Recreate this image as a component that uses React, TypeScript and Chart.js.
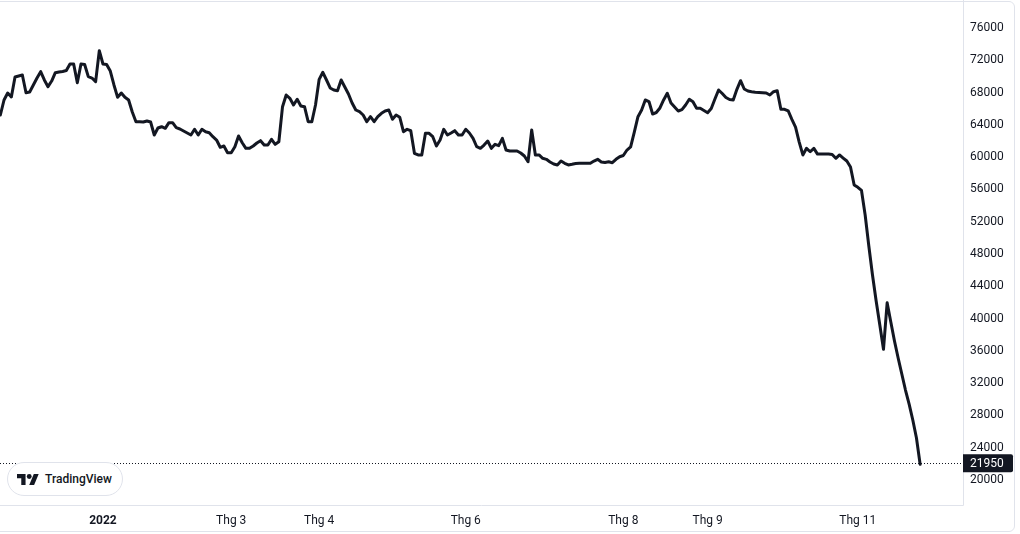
import React, { useEffect, useRef } from "react";
import { Chart, registerables } from "chart.js";

Chart.register(...registerables);

// Trading-day index of the first close (index 0 = first session of 2022)
const START_INDEX = -28;

const closePrices: number[] = [
  65220, 67080, 67950, 67450, 69930, 70050, 70180, 67980, 68070, 68940,
  69800, 70590, 69560, 68730, 69430, 70460, 70550, 70610, 70730, 71540,
  71540, 69220, 71540, 71480, 69970, 69800, 69350, 73190, 71540, 71480,
  70670, 68940, 67410, 67950, 67410, 67080, 65590, 64390, 64390, 64350,
  64480, 64350, 62740, 63610, 63770, 63570, 64270, 64270, 63650, 63490,
  63240, 62990, 62740, 63450, 62740, 63450, 63150, 63030, 62530, 62120,
  61220, 61380, 60550, 60550, 61290, 62620, 61790, 61090, 61090, 61380,
  61750, 62040, 61500, 61500, 62210, 61590, 61910, 66250, 67700, 67290,
  66460, 67170, 66340, 66250, 64390, 64390, 66460, 69640, 70510, 69560,
  68570, 68320, 68230, 69560, 68690, 67820, 66710, 65840, 65630, 65220,
  64390, 65010, 64390, 65010, 65430, 65720, 65840, 64690, 65220, 64940,
  63150, 63450, 63280, 60480, 60270, 60270, 62950, 62950, 62530, 61380,
  62120, 63450, 62740, 62990, 63280, 62740, 62740, 63450, 62990, 62330,
  61290, 61090, 61500, 62000, 61090, 61590, 61420, 62330, 60880, 60760,
  60760, 60760, 60510, 60140, 59430, 63360, 60270, 60270, 59860, 59730,
  59400, 59150, 59030, 59520, 59240, 59030, 59110, 59210, 59240, 59240,
  59240, 59240, 59520, 59730, 59400, 59340, 59430, 59310, 59730, 60050,
  60200, 60880, 61260, 63110, 65010, 65840, 67080, 66890, 65340, 65530,
  66090, 67080, 67910, 66710, 66210, 65720, 65880, 66460, 67170, 66870,
  66050, 66050, 65780, 65510, 66030, 67200, 68320, 67880, 67390, 67140,
  67080, 68400, 69470, 68440, 68190, 68100, 68050, 68020, 67980, 67950,
  67700, 68110, 68230, 65930, 65930, 65720, 64690, 63730, 61870, 60270,
  61090, 60670, 61090, 60380, 60380, 60380, 60380, 60330, 59860, 60270,
  59890, 59520, 58780, 56550, 56260, 55870, 52830, 48990, 45400, 42180,
  39200, 36190, 41960, 39570, 37220, 35110, 33130, 31150, 29410, 27430,
  25200, 21950,
];

const lastPrice = 21950;

const timeTickIndices = [0, 35, 59, 99, 142, 165, 206];
const timeTickLabels = ["2022", "Thg 3", "Thg 4", "Thg 6", "Thg 8", "Thg 9", "Thg 11"];

const priceTicks = [
  20000, 24000, 28000, 32000, 36000, 40000, 44000, 48000, 52000, 56000, 60000,
  64000, 68000, 72000, 76000,
];

const INK = "#131722";
const FRAME = "#e0e3eb";
const FONT = "Roboto, 'Liberation Sans', sans-serif";

const overlayPlugin = {
  id: "tvOverlay",
  beforeDatasetsDraw(chart: any) {
    const { ctx, chartArea } = chart;
    const y = Math.round(chart.scales.y.getPixelForValue(lastPrice)) - 0.5;
    ctx.save();
    ctx.strokeStyle = INK;
    ctx.lineWidth = 1;
    ctx.setLineDash([1, 2]);
    ctx.beginPath();
    ctx.moveTo(chartArea.left, y);
    ctx.lineTo(chartArea.right, y);
    ctx.stroke();
    ctx.restore();
  },
  afterDraw(chart: any) {
    const { ctx, chartArea } = chart;
    ctx.save();
    ctx.strokeStyle = FRAME;
    ctx.lineWidth = 1;
    ctx.beginPath();
    ctx.moveTo(chartArea.right + 0.5, 0);
    ctx.lineTo(chartArea.right + 0.5, chartArea.bottom + 0.5);
    ctx.lineTo(chartArea.left, chartArea.bottom + 0.5);
    ctx.stroke();

    const y = chart.scales.y.getPixelForValue(lastPrice) - 1;
    const x0 = chartArea.right;
    const w = 50;
    const h = 18;
    const r = 2;
    ctx.fillStyle = INK;
    ctx.beginPath();
    ctx.moveTo(x0, y - h / 2);
    ctx.lineTo(x0 + w - r, y - h / 2);
    ctx.quadraticCurveTo(x0 + w, y - h / 2, x0 + w, y - h / 2 + r);
    ctx.lineTo(x0 + w, y + h / 2 - r);
    ctx.quadraticCurveTo(x0 + w, y + h / 2, x0 + w - r, y + h / 2);
    ctx.lineTo(x0, y + h / 2);
    ctx.closePath();
    ctx.fill();
    ctx.fillStyle = "#ffffff";
    ctx.font = `12px ${FONT}`;
    ctx.textAlign = "left";
    ctx.textBaseline = "middle";
    ctx.fillText(String(lastPrice), x0 + 7, y + 0.5);
    ctx.restore();
  },
};

export default function App() {
  const canvasRef = useRef<HTMLCanvasElement | null>(null);

  useEffect(() => {
    document.body.style.margin = "0";
    document.body.style.overflow = "hidden";
    const canvas = canvasRef.current;
    if (!canvas) return;
    const points = closePrices.map((v, k) => ({ x: k + START_INDEX, y: v }));
    const chart = new Chart(canvas, {
      type: "line",
      data: {
        datasets: [
          {
            data: points,
            borderColor: INK,
            borderWidth: 3,
            pointRadius: 0,
            pointHoverRadius: 0,
            tension: 0,
            borderJoinStyle: "round",
            borderCapStyle: "round",
            fill: false,
          },
        ],
      },
      options: {
        animation: false,
        responsive: false,
        devicePixelRatio: 1,
        events: [],
        layout: { padding: { top: 1, left: 0, right: 0, bottom: 0 } },
        plugins: {
          legend: { display: false },
          tooltip: { enabled: false },
          title: { display: false },
        },
        scales: {
          x: {
            type: "linear",
            position: "bottom",
            min: -28.1,
            max: 234.7,
            grid: { display: false, drawTicks: false },
            border: { display: false },
            afterBuildTicks: (scale: any) => {
              scale.ticks = timeTickIndices.map((v) => ({ value: v }));
            },
            afterFit: (scale: any) => {
              scale.height = 29;
              scale.paddingLeft = 0;
              scale.paddingRight = 0;
            },
            ticks: {
              autoSkip: false,
              maxRotation: 0,
              minRotation: 0,
              padding: 9,
              color: INK,
              font: (c: any) => ({
                family: FONT,
                size: 12,
                weight: c.tick && c.tick.value === 0 ? "bold" : "normal",
              }),
              callback: (value: any) => {
                const i = timeTickIndices.indexOf(Number(value));
                return i >= 0 ? timeTickLabels[i] : "";
              },
            },
          },
          y: {
            type: "linear",
            position: "right",
            min: 16903,
            max: 79345,
            grid: { display: false, drawTicks: false },
            border: { display: false },
            afterBuildTicks: (scale: any) => {
              scale.ticks = priceTicks.map((v) => ({ value: v }));
            },
            afterFit: (scale: any) => {
              scale.width = 57;
              scale.paddingTop = 0;
              scale.paddingBottom = 0;
            },
            ticks: {
              padding: 7,
              color: INK,
              font: { family: FONT, size: 12 },
              callback: (value: any) => String(value),
            },
          },
        },
      },
      plugins: [overlayPlugin],
    } as any);
    return () => chart.destroy();
  }, []);

  return (
    <div
      style={{
        position: "absolute",
        left: 0,
        top: 0,
        width: 1020,
        height: 534,
        overflow: "hidden",
        background: "#ffffff",
      }}
    >
      <canvas ref={canvasRef} width={1020} height={534} style={{ display: "block" }} />
      <div
        style={{
          position: "absolute",
          left: -20,
          top: 1,
          width: 1035,
          height: 531,
          boxSizing: "border-box",
          border: `1px solid ${FRAME}`,
          borderRadius: 6,
          pointerEvents: "none",
        }}
      />
      <div
        style={{
          position: "absolute",
          left: 7,
          top: 462,
          width: 116,
          height: 34,
          boxSizing: "border-box",
          border: `1px solid ${FRAME}`,
          borderRadius: 17,
          background: "#ffffff",
          display: "flex",
          alignItems: "center",
          paddingLeft: 9,
          fontFamily: FONT,
          fontSize: 12,
          fontWeight: 500,
          color: INK,
          whiteSpace: "nowrap",
        }}
      >
        <svg width="22" height="11" viewBox="0 4 36 18" style={{ display: "block" }}>
          <path d="M14 22H7V11H0V4h14v18zM28 22h-8l7.5-18h8L28 22z" fill={INK} />
          <circle cx="20" cy="8" r="4" fill={INK} />
        </svg>
        <span style={{ marginLeft: 6 }}>TradingView</span>
      </div>
    </div>
  );
}
